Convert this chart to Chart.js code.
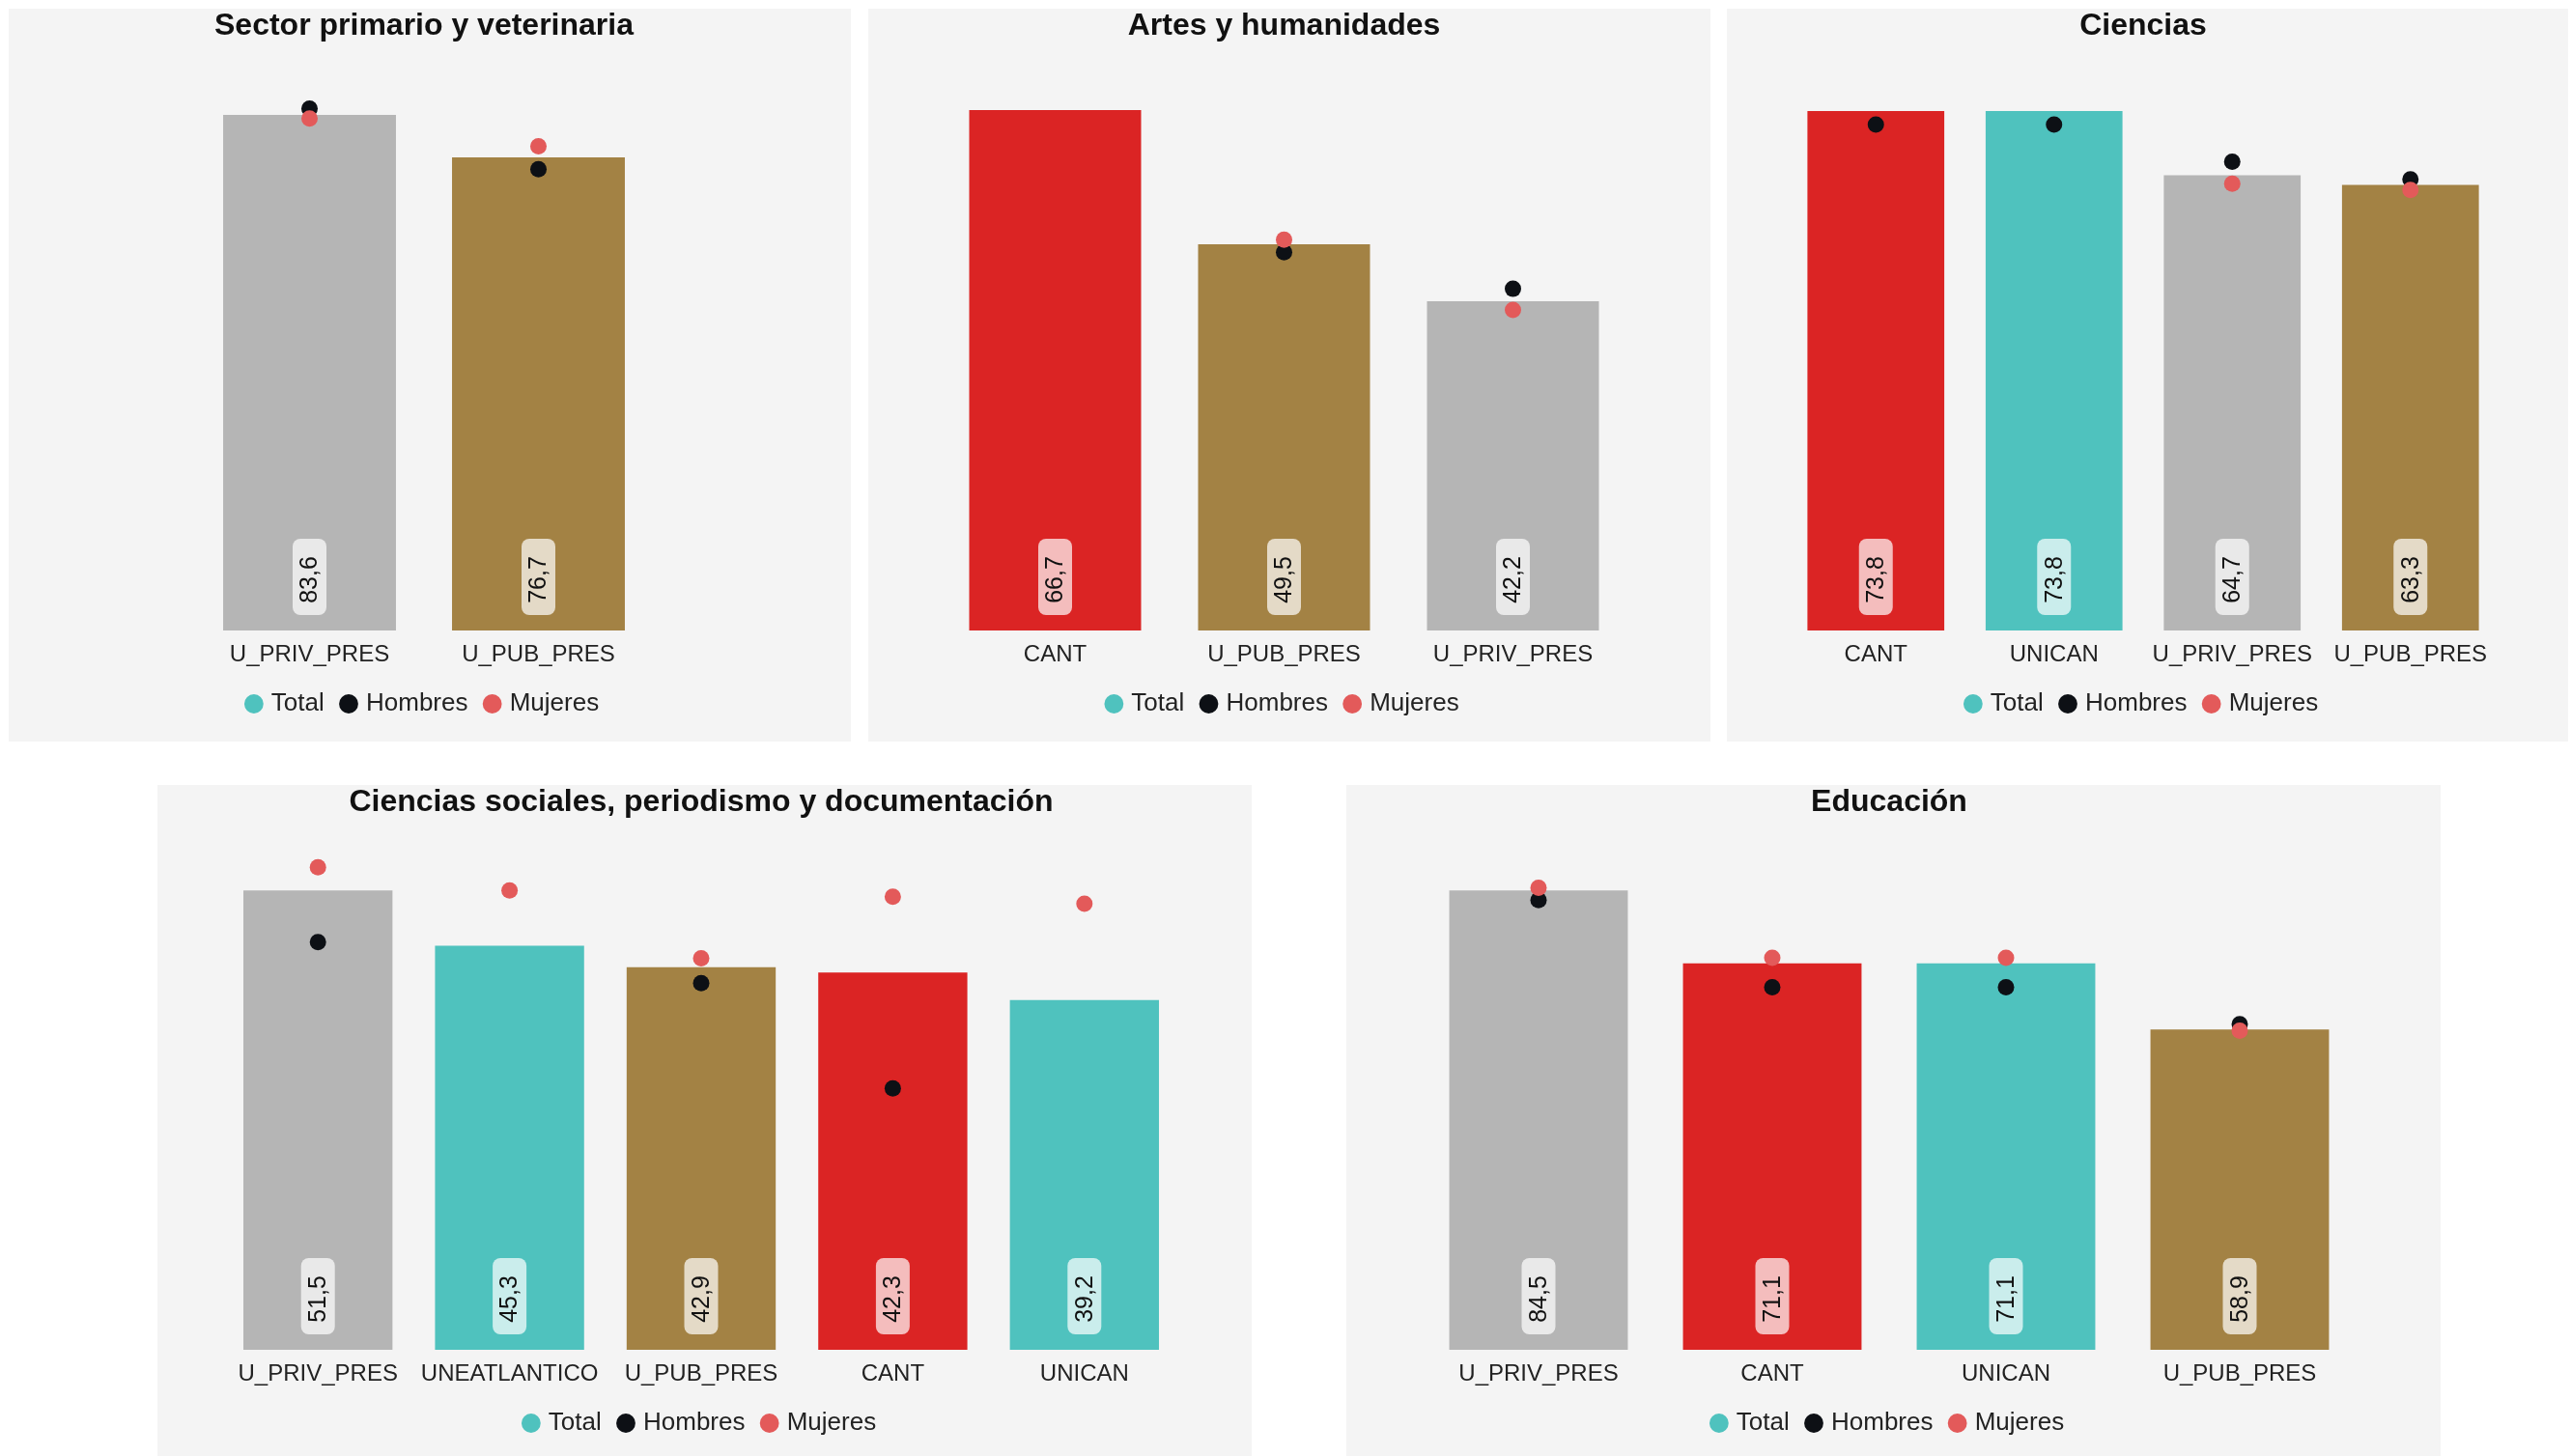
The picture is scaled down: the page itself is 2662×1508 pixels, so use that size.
<!DOCTYPE html>
<html lang="es">
<head>
<meta charset="UTF-8">
<title>Tasas por rama de conocimiento</title>
<script src="https://cdn.jsdelivr.net/npm/chart.js"></script>
<style>
  body { margin: 0; background: #fff; overflow: hidden; width: 2662px; height: 1508px; position: relative; }
  .panel { position: absolute; background: #f4f4f4; overflow: hidden; }
  .panel canvas { display: block; }
</style>
</head>
<body>

<div class="panel" id="p1"><canvas id="c1"></canvas></div>
<div class="panel" id="p2"><canvas id="c2"></canvas></div>
<div class="panel" id="p3"><canvas id="c3"></canvas></div>
<div class="panel" id="p4"><canvas id="c4"></canvas></div>
<div class="panel" id="p5"><canvas id="c5"></canvas></div>

<script>
// datos de cada panel
const sectorCats = ["U_PRIV_PRES", "U_PUB_PRES"];
const sectorTotal = [83.6, 76.7];
const sectorHombres = [84.6, 74.8];
const sectorMujeres = [83.0, 78.5];

const artesCats = ["CANT", "U_PUB_PRES", "U_PRIV_PRES"];
const artesTotal = [66.7, 49.5, 42.2];
const artesHombres = [null, 48.5, 43.8];
const artesMujeres = [null, 50.1, 41.1];

const cienciasCats = ["CANT", "UNICAN", "U_PRIV_PRES", "U_PUB_PRES"];
const cienciasTotal = [73.8, 73.8, 64.7, 63.3];
const cienciasHombres = [71.9, 71.9, 66.6, 64.1];
const cienciasMujeres = [null, null, 63.5, 62.6];

const socialesCats = ["U_PRIV_PRES", "UNEATLANTICO", "U_PUB_PRES", "CANT", "UNICAN"];
const socialesTotal = [51.5, 45.3, 42.9, 42.3, 39.2];
const socialesHombres = [45.7, null, 41.1, 29.3, null];
const socialesMujeres = [54.1, 51.5, 43.9, 50.8, 50.0];

const educacionCats = ["U_PRIV_PRES", "CANT", "UNICAN", "U_PUB_PRES"];
const educacionTotal = [84.5, 71.1, 71.1, 58.9];
const educacionHombres = [82.7, 66.7, 66.7, 59.9];
const educacionMujeres = [85.0, 72.1, 72.1, 58.7];

const titulos = [
    "Sector primario y veterinaria",
    "Artes y humanidades",
    "Ciencias",
    "Ciencias sociales, periodismo y documentación",
    "Educación"
];
const seriesNames = ["Total", "Hombres", "Mujeres"];

// colores
const barColors = {
    CANT: "#db2424",
    UNICAN: "#4fc2be",
    UNEATLANTICO: "#4fc2be",
    U_PRIV_PRES: "#b5b5b5",
    U_PUB_PRES: "#a38244"
};
const legendColors = ["#4fc2be", "#0d1015", "#e35a5a"];
const FONT = '"Liberation Sans", Arial, Helvetica, sans-serif';

// posiciones de los paneles (px), margenes internos y holgura del eje y
const panels = [
    {left: 9,    top: 9,   w: 872,  h: 759, padL: 193, padR: 205, bar: 0.755, titleGap: 22, head: 1.100},
    {left: 899,  top: 9,   w: 872,  h: 759, padL: 75,  padR: 86,  bar: 0.751, titleGap: 22, head: 1.090},
    {left: 1788, top: 9,   w: 871,  h: 759, padL: 62,  padR: 71,  bar: 0.768, titleGap: 22, head: 1.092},
    {left: 163,  top: 813, w: 1133, h: 700, padL: 67,  padR: 74,  bar: 0.778, titleGap: 28, head: 1.098},
    {left: 1394, top: 813, w: 1133, h: 700, padL: 78,  padR: 87,  bar: 0.764, titleGap: 28, head: 1.098}
];

Chart.defaults.font.family = FONT;
Chart.defaults.color = "#222";

function fmt(v) {
    return v.toFixed(1).replace(".", ",");
}

// etiqueta girada con fondo claro en la base de cada barra
const etiquetas = {
    id: "etiquetas",
    afterDatasetsDraw(chart) {
        const ctx = chart.ctx;
        const meta = chart.getDatasetMeta(0);
        const values = chart.data.datasets[0].data;
        ctx.save();
        meta.data.forEach((bar, i) => {
            const w = 35, h = 79;
            const bottom = bar.base - 16;
            ctx.fillStyle = "rgba(255,255,255,0.7)";
            ctx.beginPath();
            ctx.roundRect(bar.x - w / 2, bottom - h, w, h, 8);
            ctx.fill();
            ctx.save();
            ctx.translate(bar.x, bottom - h / 2);
            ctx.rotate(-Math.PI / 2);
            ctx.fillStyle = "#111";
            ctx.font = "25px " + FONT;
            ctx.textAlign = "center";
            ctx.textBaseline = "middle";
            ctx.fillText(fmt(values[i]), -3, 1);
            ctx.restore();
        });
        ctx.restore();
    }
};

function renderChart(n, cats, total, hombres, mujeres) {
    const p = panels[n];
    const div = document.getElementById("p" + (n + 1));
    div.style.left = p.left + "px";
    div.style.top = p.top + "px";
    div.style.width = p.w + "px";
    div.style.height = p.h + "px";
    const canvas = document.getElementById("c" + (n + 1));
    canvas.width = p.w;
    canvas.height = p.h;

    new Chart(canvas.getContext("2d"), {
        data: {
            labels: cats,
            datasets: [
                {
                    type: "bar",
                    label: seriesNames[0],
                    data: total,
                    backgroundColor: cats.map(c => barColors[c]),
                    borderWidth: 0,
                    categoryPercentage: 1,
                    barPercentage: p.bar,
                    order: 3
                },
                {
                    type: "line",
                    label: seriesNames[1],
                    data: hombres,
                    showLine: false,
                    pointRadius: 8.5,
                    pointHoverRadius: 8.5,
                    pointBorderWidth: 0,
                    pointBackgroundColor: legendColors[1],
                    borderColor: legendColors[1],
                    backgroundColor: legendColors[1],
                    order: 2
                },
                {
                    type: "line",
                    label: seriesNames[2],
                    data: mujeres,
                    showLine: false,
                    pointRadius: 8.5,
                    pointHoverRadius: 8.5,
                    pointBorderWidth: 0,
                    pointBackgroundColor: legendColors[2],
                    borderColor: legendColors[2],
                    backgroundColor: legendColors[2],
                    order: 1
                }
            ]
        },
        options: {
            responsive: false,
            animation: false,
            devicePixelRatio: 1,
            layout: {
                padding: {left: p.padL, right: p.padR, top: 0, bottom: 16}
            },
            scales: {
                x: {
                    grid: {display: false},
                    border: {display: false},
                    ticks: {
                        font: {size: 24},
                        color: "#222",
                        padding: 3,
                        maxRotation: 0,
                        autoSkip: false
                    }
                },
                y: {
                    display: false,
                    min: 0,
                    max: Math.max(...total) * p.head
                }
            },
            plugins: {
                title: {
                    display: true,
                    text: titulos[n],
                    color: "#111",
                    font: {size: 32, weight: "bold", lineHeight: 1},
                    padding: {top: 2.6, bottom: p.titleGap}
                },
                legend: {
                    position: "bottom",
                    labels: {
                        usePointStyle: true,
                        pointStyle: "circle",
                        boxWidth: 10,
                        boxHeight: 14,
                        padding: 20.2,
                        color: "#222",
                        font: {size: 26},
                        generateLabels(chart) {
                            const items = Chart.defaults.plugins.legend.labels.generateLabels(chart);
                            items.forEach(it => {
                                it.fillStyle = legendColors[it.datasetIndex];
                                it.strokeStyle = legendColors[it.datasetIndex];
                                it.lineWidth = 0;
                            });
                            return items;
                        },
                        sort: (a, b) => a.datasetIndex - b.datasetIndex
                    }
                },
                tooltip: {enabled: false}
            }
        },
        plugins: [etiquetas]
    });
}

renderChart(0, sectorCats, sectorTotal, sectorHombres, sectorMujeres);
renderChart(1, artesCats, artesTotal, artesHombres, artesMujeres);
renderChart(2, cienciasCats, cienciasTotal, cienciasHombres, cienciasMujeres);
renderChart(3, socialesCats, socialesTotal, socialesHombres, socialesMujeres);
renderChart(4, educacionCats, educacionTotal, educacionHombres, educacionMujeres);
</script>

</body>
</html>
